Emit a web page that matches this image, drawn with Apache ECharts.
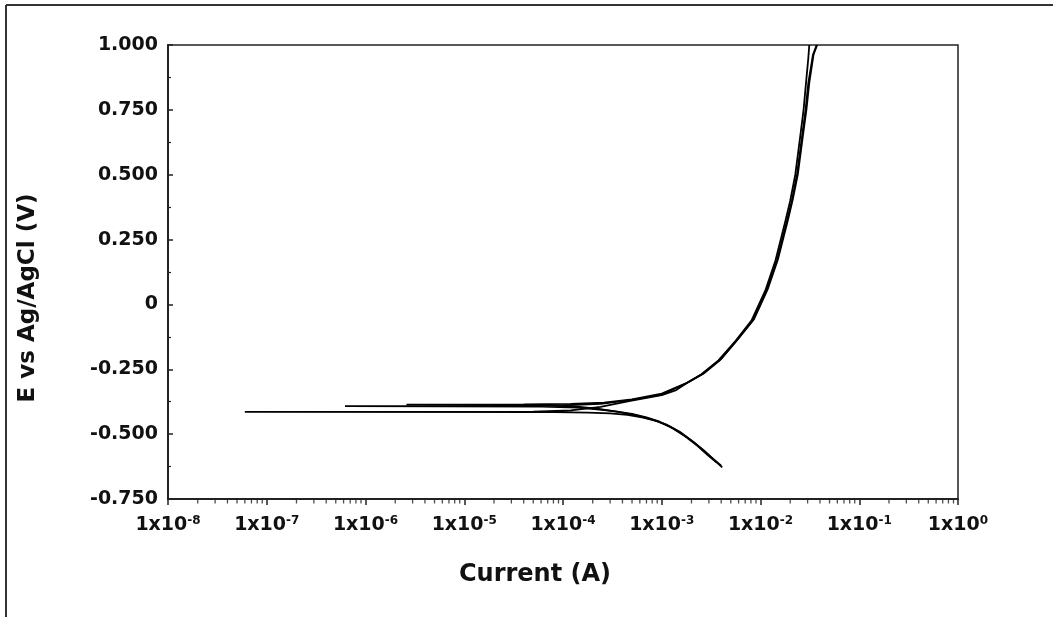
<!DOCTYPE html>
<html>
<head>
<meta charset="utf-8">
<script src="https://cdn.jsdelivr.net/npm/echarts@6.0.0/dist/echarts.min.js"></script>
<style>
  html, body { margin: 0; padding: 0; background: #fff; }
  #chart { width: 1053px; height: 617px; }
</style>
</head>
<body>
<div id="chart"></div>
<script>
// polarization scans, [current (A), potential (V vs Ag/AgCl)]
// each scan runs cathodic end -> dip at Ecorr -> anodic end
const scanA = [
  [4.1e-3, -0.628], [3.4e-3, -0.600], [2.7e-3, -0.565], [2.1e-3, -0.530],
  [1.6e-3, -0.497], [1.2e-3, -0.470], [9e-4, -0.450], [6.5e-4, -0.436],
  [4.5e-4, -0.426], [3e-4, -0.420], [1.8e-4, -0.417], [8e-5, -0.415],
  [6e-8, -0.414],
  [5e-5, -0.413], [1.2e-4, -0.408], [2.4e-4, -0.395], [4.8e-4, -0.372],
  [1e-3, -0.350], [1.4e-3, -0.330], [1.8e-3, -0.303], [2.6e-3, -0.268],
  [3.9e-3, -0.214], [5.8e-3, -0.137], [8.4e-3, -0.060], [1.16e-2, 0.056],
  [1.47e-2, 0.171], [1.86e-2, 0.325], [2.08e-2, 0.402], [2.34e-2, 0.500],
  [2.63e-2, 0.645], [2.86e-2, 0.750], [3.05e-2, 0.853], [3.39e-2, 0.960],
  [3.7e-2, 1.000]
];
const scanB = [
  [3.6e-3, -0.610], [2.9e-3, -0.580], [2.3e-3, -0.545], [1.75e-3, -0.510],
  [1.3e-3, -0.478], [9.5e-4, -0.452], [7e-4, -0.435], [5e-4, -0.422],
  [3.4e-4, -0.412], [2.2e-4, -0.404], [1.4e-4, -0.398], [6e-5, -0.394],
  [6.2e-7, -0.392],
  [3e-5, -0.391], [1e-4, -0.389], [2.4e-4, -0.383], [4.8e-4, -0.369],
  [1e-3, -0.348], [1.75e-3, -0.305], [2.5e-3, -0.270], [3.75e-3, -0.216],
  [5.6e-3, -0.140], [8.1e-3, -0.062], [1.12e-2, 0.054], [1.42e-2, 0.170],
  [1.79e-2, 0.323], [2e-2, 0.400], [2.25e-2, 0.500], [2.52e-2, 0.645],
  [2.73e-2, 0.750], [2.9e-2, 0.860], [3.05e-2, 0.950], [3.12e-2, 1.000]
];
const scanC = [
  [4e-3, -0.622], [3.3e-3, -0.595], [2.6e-3, -0.560], [2e-3, -0.525],
  [1.5e-3, -0.490], [1.1e-3, -0.462], [8e-4, -0.444], [5.5e-4, -0.428],
  [3.6e-4, -0.414], [2.3e-4, -0.403], [1.4e-4, -0.394], [7e-5, -0.389],
  [2.6e-6, -0.386],
  [4e-5, -0.385], [1.2e-4, -0.383], [2.6e-4, -0.379], [5e-4, -0.366],
  [1e-3, -0.344], [1.85e-3, -0.300], [2.65e-3, -0.266], [4e-3, -0.210],
  [5.9e-3, -0.134], [8.6e-3, -0.057], [1.18e-2, 0.058], [1.5e-2, 0.173],
  [1.9e-2, 0.327], [2.12e-2, 0.404], [2.39e-2, 0.502], [2.68e-2, 0.647],
  [2.92e-2, 0.752], [3.12e-2, 0.855], [3.45e-2, 0.965], [3.75e-2, 1.000]
];

const xMin = 1e-8;
const xMax = 1;
const yMin = -0.75;
const yMax = 1.0;
const yStep = 0.25;

// log minor tick positions (2..9 in every decade)
const minorTicks = [];
for (let e = -8; e < 0; e++) {
  for (let k = 2; k <= 9; k++) minorTicks.push([k * Math.pow(10, e), yMin]);
}

const font = 'DejaVu Sans';
const chart = echarts.init(document.getElementById('chart'));

const lineSeries = (name, data) => ({
  name: name,
  type: 'line',
  data: data,
  showSymbol: false,
  smooth: false,
  lineStyle: { color: '#000', width: 1.8 },
  silent: true
});

const option = {
  backgroundColor: '#fff',
  animation: false,
  grid: {
    left: 168, top: 45, right: 95, bottom: 118,
    show: true, borderColor: '#222', borderWidth: 1.5
  },
  xAxis: {
    type: 'log',
    logBase: 10,
    min: xMin,
    max: xMax,
    interval: 1,
    name: 'Current (A)',
    nameLocation: 'middle',
    nameGap: 64,
    nameTextStyle: {
      fontFamily: font, fontWeight: 'bold', fontSize: 24, color: '#111',
      padding: [0, 56, 0, 0]
    },
    axisLine: { onZero: false, lineStyle: { color: '#222', width: 2 } },
    axisTick: { show: true, inside: false, length: 6, lineStyle: { color: '#222', width: 1.5 } },
    splitLine: { show: false },
    axisLabel: {
      margin: 16,
      fontFamily: font, fontWeight: 'bold', fontSize: 19, color: '#111',
      formatter: function (v) {
        const e = Math.round(Math.log10(v));
        return '1x10{sup|' + e + '}';
      },
      rich: {
        sup: { fontFamily: font, fontWeight: 'bold', fontSize: 12, color: '#111', verticalAlign: 'top', padding: [0, 0, 8, 0] }
      }
    }
  },
  yAxis: {
    type: 'value',
    min: yMin,
    max: yMax,
    interval: yStep,
    name: 'E vs Ag/AgCl (V)',
    nameLocation: 'middle',
    nameGap: 128,
    nameTextStyle: {
      fontFamily: font, fontWeight: 'bold', fontSize: 23, color: '#111',
      padding: [0, 52, 0, 0]
    },
    axisLine: { show: true, lineStyle: { color: '#222', width: 2 } },
    axisTick: { show: true, inside: true, length: 5, lineStyle: { color: '#222', width: 1.5 } },
    minorTick: { show: true, splitNumber: 2, length: 3, lineStyle: { color: '#222', width: 1.2 } },
    splitLine: { show: false },
    axisLabel: {
      margin: 10,
      fontFamily: font, fontWeight: 'bold', fontSize: 19, color: '#111',
      formatter: function (v) {
        return Math.abs(v) < 1e-9 ? '0' : v.toFixed(3);
      }
    }
  },
  series: [
    lineSeries('scan A', scanA),
    lineSeries('scan B', scanB),
    lineSeries('scan C', scanC),
    {
      name: 'minor ticks',
      type: 'scatter',
      data: minorTicks,
      symbol: 'rect',
      symbolSize: [1.3, 4],
      symbolOffset: [0, 2.5],
      itemStyle: { color: '#222' },
      clip: false,
      silent: true,
      z: 5
    }
  ],
  graphic: [
    { type: 'line', shape: { x1: 6, y1: 5, x2: 1053, y2: 5 }, style: { stroke: '#333', lineWidth: 2 } },
    { type: 'line', shape: { x1: 6, y1: 5, x2: 6, y2: 617 }, style: { stroke: '#333', lineWidth: 2 } }
  ]
};

chart.setOption(option);
window.addEventListener('resize', () => chart.resize());
</script>
</body>
</html>
